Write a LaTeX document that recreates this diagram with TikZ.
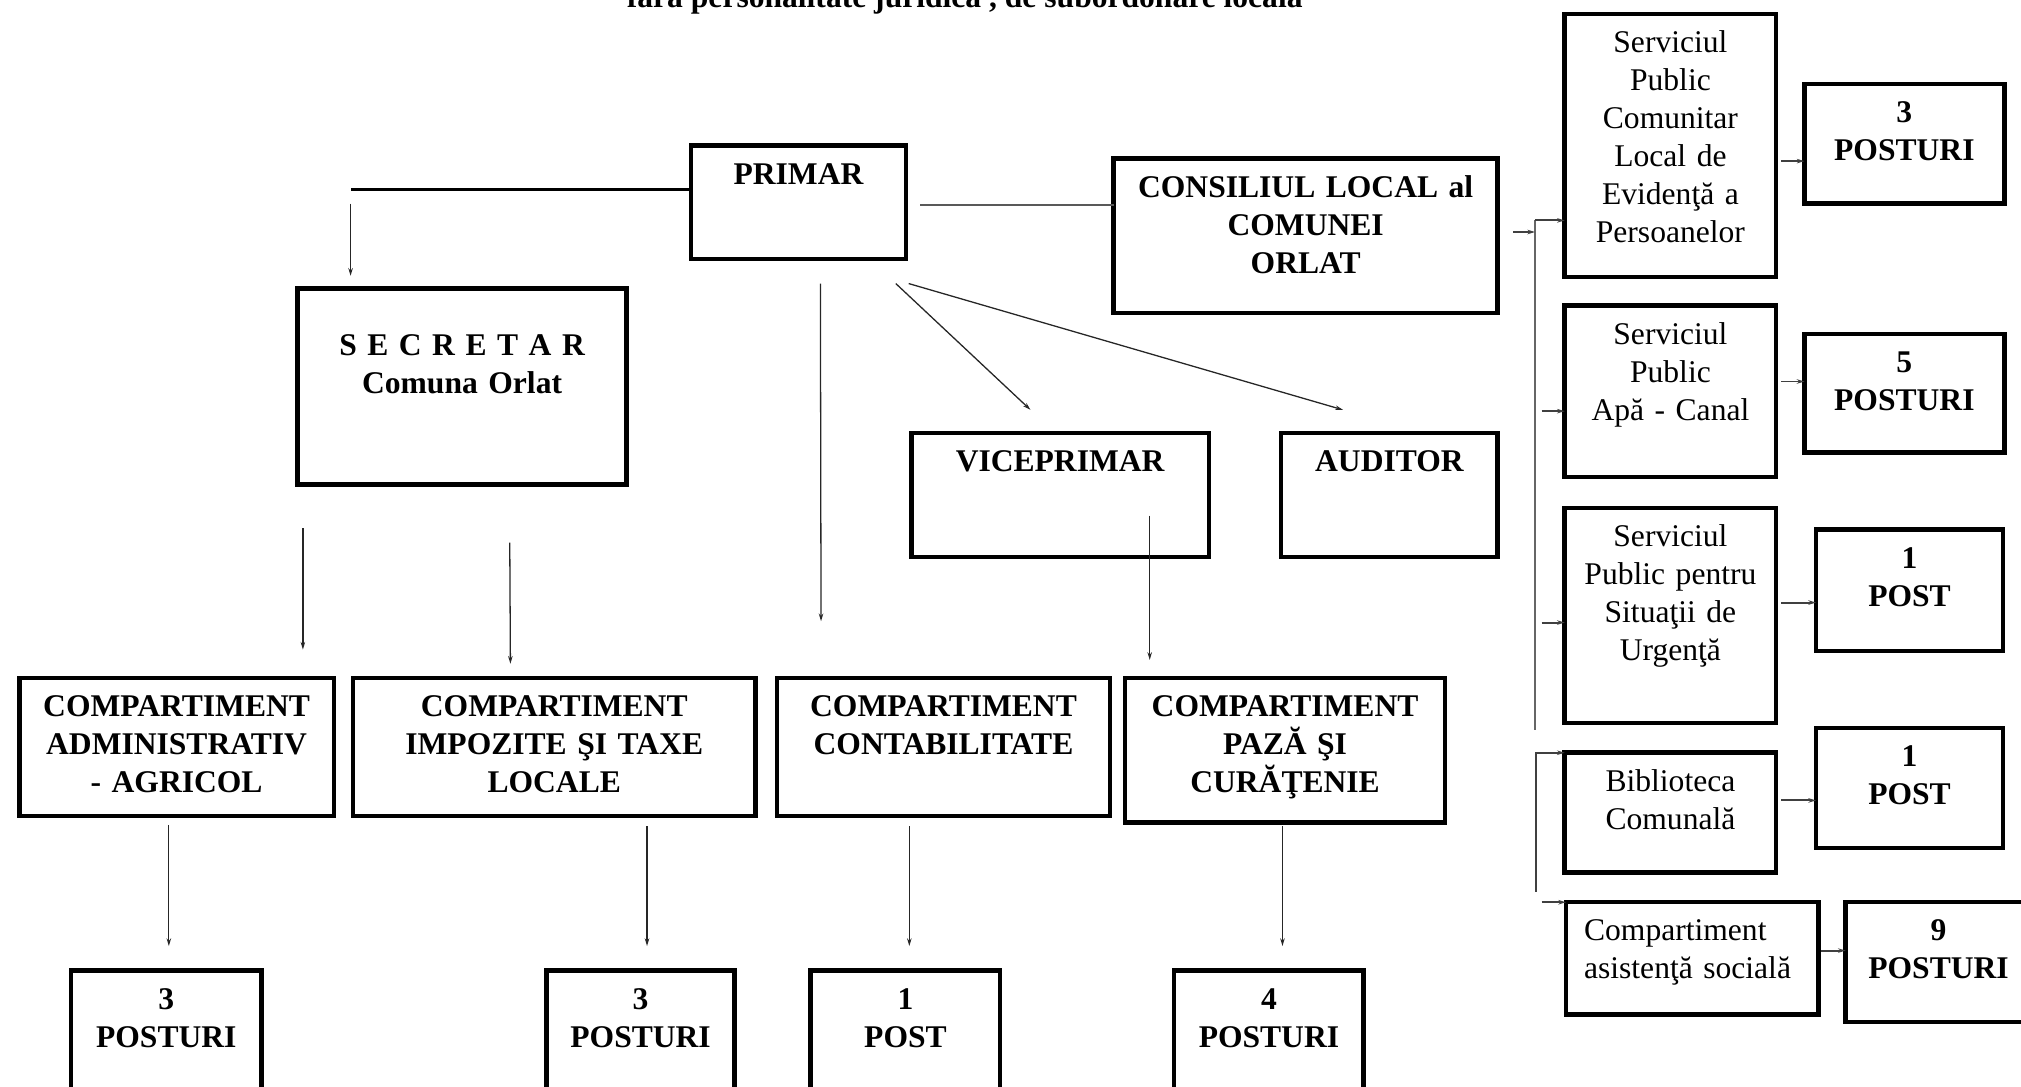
\documentclass[tikz,border=0pt]{standalone}
\usepackage{fontspec}
\setmainfont{Liberation Serif}
\usetikzlibrary{arrows.meta}

\begin{document}
\begin{tikzpicture}[x=1pt,y=-1pt,->,>={Stealth[length=6pt,width=3.5pt]},
		font=\fontsize{24.5}{29.5}\selectfont\bfseries]
		\tikzstyle{box}=[draw,-,line width=3.5pt,inner sep=0pt,outer sep=0pt,text height=30pt,align=center,anchor=north west]
		\tikzstyle{serv}=[box,font=\fontsize{24.5}{29.5}\selectfont\mdseries]
		\tikzstyle{link}=[line width=1pt,draw=black!85]
		\tikzstyle{side}=[line width=1.5pt,draw=black!75]
		\tikzstyle{bus}=[-,line width=1.5pt,draw=black!60]
		
		\useasboundingbox (0,0) rectangle (1568,843);
		
		\node[anchor=base]  (titlu) at (748.5,6) {fără personalitate juridică , de subordonare locală};
		
		% conducere
		\node[box,text width=167pt,text depth=58pt]   (primar)   at (536,113)  {PRIMAR};
		\node[box,text width=298pt,text depth=90pt]   (consiliu) at (864,123)  {CONSILIUL LOCAL al\\COMUNEI\\ORLAT};
		\node[box,text width=255pt,text height=52pt,text depth=100pt] (secretar) at (231,224) {S E C R E T A R\\Comuna Orlat};
		\node[box,text width=231pt,text depth=66pt]   (vice)     at (707,336)  {VICEPRIMAR};
		\node[box,text width=168pt,text depth=66pt]   (auditor)  at (994,336)  {AUDITOR};
		
		% compartimente
		\node[box,text width=244pt,text depth=77pt]   (adm)      at (15,526)   {COMPARTIMENT\\ADMINISTRATIV\\- AGRICOL};
		\node[box,text width=312pt,text depth=77pt]   (impozite) at (274,526)  {COMPARTIMENT\\IMPOZITE ŞI TAXE\\LOCALE};
		\node[box,text width=258pt,text depth=77pt]   (contab)   at (603,526)  {COMPARTIMENT\\CONTABILITATE};
		\node[box,text width=248pt,text depth=82pt]   (paza)     at (873,526)  {COMPARTIMENT\\PAZĂ ŞI\\CURĂŢENIE};
		
		\node[box,text width=148pt,text depth=87pt]   (p1)       at (55,753)   {3\\POSTURI};
		\node[box,text width=146pt,text depth=87pt]   (p2)       at (424,753)  {3\\POSTURI};
		\node[box,text width=147pt,text depth=87pt]   (p3)       at (629,753)  {1\\POST};
		\node[box,text width=147pt,text depth=87pt]   (p4)       at (911,753)  {4\\POSTURI};
		
		% servicii publice
		\node[serv,text width=164pt,text depth=174pt] (evid)     at (1214,11)  {Serviciul\\Public\\Comunitar\\Local de\\Evidenţă a\\Persoanelor};
		\node[serv,text width=164pt,text depth=103pt] (apa)      at (1214,237) {Serviciul\\Public\\Apă - Canal};
		\node[serv,text width=164pt,text depth=137pt] (urg)      at (1214,394) {Serviciul\\Public pentru\\Situaţii de\\Urgenţă};
		\node[serv,text width=164pt,text depth=63pt]  (biblio)   at (1214,584) {Biblioteca\\Comunală};
		\node[serv,text width=168pt,text depth=57pt,inner xsep=14pt,align=left] (asist) at (1215,700) {Compartiment\\asistenţă socială};
		
		\node[box,text width=155pt,text depth=63pt]   (pr1)      at (1400,65)  {3\\POSTURI};
		\node[box,text width=155pt,text depth=62pt]   (pr2)      at (1400,259) {5\\POSTURI};
		\node[box,text width=145pt,text depth=64pt]   (pr3)      at (1409,411) {1\\POST};
		\node[box,text width=145pt,text depth=63pt]   (pr4)      at (1409,565) {1\\POST};
		\node[box,text width=144pt,text depth=63pt]   (pr5)      at (1432,700) {9\\POSTURI};
		
		\coordinate (sbend)  at (272,147);
		\coordinate (bus)    at (1191,171);
		\coordinate (busend) at (1191,566);
		\coordinate (bus2)   at (1192,692);
		
		\draw[-,line width=2pt] ([yshift=10pt]primar.west) -- (sbend);
		\draw[-,line width=2pt,draw=black!65,shorten <=11pt] ([yshift=-2pt]primar.east) -- ([yshift=-2pt]primar.east -| consiliu.west);
		
		\path ([yshift=-11pt]sbend)                    edge[link] ([yshift=10pt]sbend |- secretar.north)
		([shift={(-8pt,-19pt)}]primar.south east)      edge[link] ([shift={(-23pt,18pt)}]vice.north)
		([shift={(2pt,-19pt)}]primar.south east)       edge[link] ([shift={(-36pt,18pt)}]auditor.north)
		([shift={(17pt,-19pt)}]primar.south)           edge[link] ([shift={(34pt,44pt)}]contab.north west)
		([shift={(4pt,-34pt)}]secretar.south west)     edge[link] ([shift={(-24pt,22pt)}]adm.north east)
		([shift={(37pt,-45pt)}]secretar.south)         edge[link] ([shift={(-34pt,11pt)}]impozite.north)
		([shift={(-46pt,32pt)}]vice.south east)        edge[link] ([shift={(-105pt,14pt)}]paza.north)
		([shift={(-6pt,-7pt)}]adm.south)               edge[link] ([shift={(2pt,19pt)}]p1.north)
		([shift={(72pt,-8pt)}]impozite.south)          edge[link] ([shift={(5pt,19pt)}]p2.north)
		([shift={(-26.5pt,-8pt)}]contab.south)         edge[link] ([shift={(3pt,19pt)}]p3.north)
		([shift={(-2pt,-3pt)}]paza.south)              edge[link] ([shift={(10.5pt,19pt)}]p4.north);
		
		% partea dreapta
		\draw[bus] (bus) -- (busend);
		\draw[side] ([shift={(12pt,3pt)}]consiliu.east) -- ([yshift=-9pt]bus);
		\path (bus)                                    edge[side] (bus -| evid.west)
		([shift={(-18pt,-15.5pt)}]apa.west)            edge[side] ([yshift=-15.5pt]apa.west)
		([shift={(-18pt,-5.5pt)}]urg.west)             edge[side] ([yshift=-5.5pt]urg.west)
		(bus2)                                         edge[side,to path={|- (\tikztotarget)}] (biblio.north west)
		([xshift=-19pt]asist.north west)               edge[side] (asist.north west)
		([shift={(4pt,-12pt)}]evid.east)               edge[side] ([yshift=-13.5pt]pr1.west)
		([shift={(4pt,7.5pt)}]apa.east)                edge[side] ([yshift=9pt]pr2.west)
		([shift={(4pt,10pt)}]urg.east)                 edge[side] ([yshift=-9.5pt]pr3.west)
		([shift={(4pt,9.5pt)}]biblio.east)             edge[side] ([yshift=-9.5pt]pr4.west)
		([shift={(2pt,6pt)}]asist.east)                edge[side] ([yshift=9pt]pr5.west);
		
\end{tikzpicture}
\end{document}
